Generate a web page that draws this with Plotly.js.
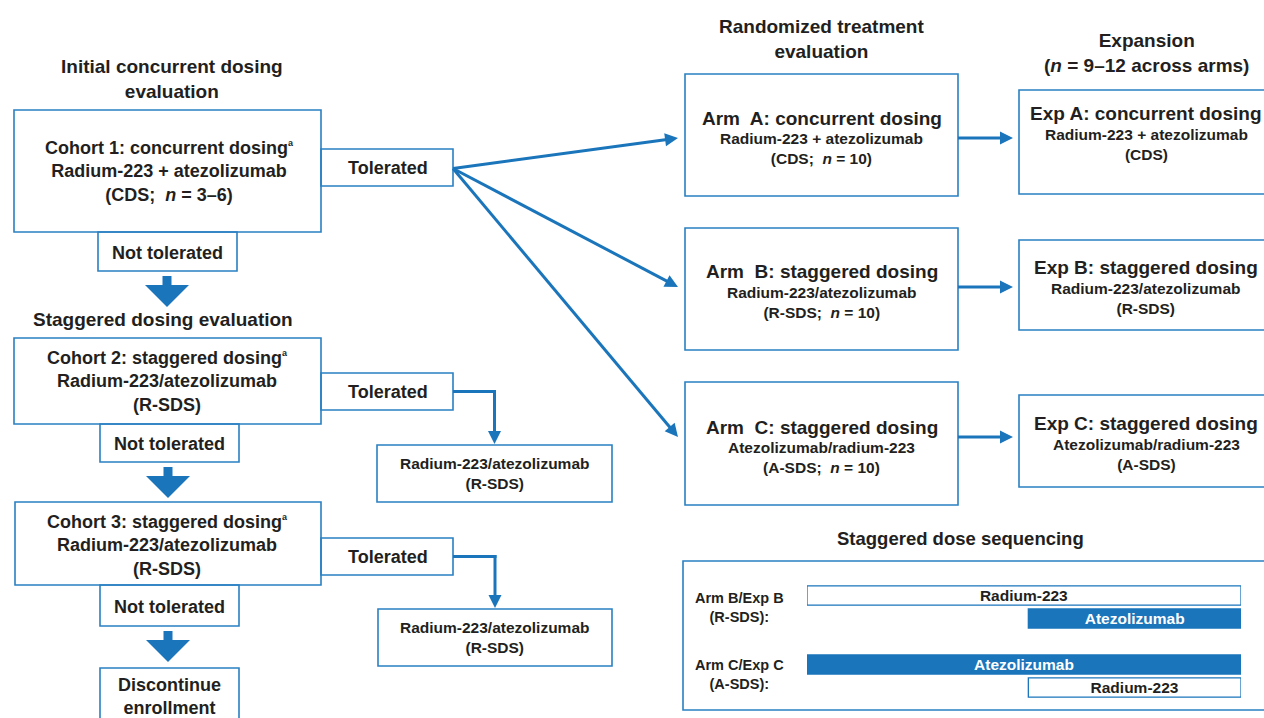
<!DOCTYPE html>
<html>
<head>
<meta charset="utf-8">
<script src="https://cdn.plot.ly/plotly-3.0.1.min.js"></script>
<style>html,body{margin:0;padding:0;background:#fff;}#chart{width:1264px;height:718px;}</style>
</head>
<body>
<div id="chart"></div>
<script>
// ---------- content (texts / values) ----------
const SUP_A = '<sup><span style="font-size:9px">a</span></sup>';
const sectionHeaders = [
  'Initial concurrent dosing<br>evaluation',
  'Staggered dosing evaluation',
  'Randomized treatment<br>evaluation',
  'Expansion<br>(<i>n</i> = 9–12 across arms)',
  'Staggered dose sequencing'
];
const cohortTexts = [
  'Cohort 1: concurrent dosing' + SUP_A + '<br>Radium-223 + atezolizumab<br>(CDS;  <i>n</i> = 3–6)',
  'Cohort 2: staggered dosing' + SUP_A + '<br>Radium-223/atezolizumab<br>(R-SDS)',
  'Cohort 3: staggered dosing' + SUP_A + '<br>Radium-223/atezolizumab<br>(R-SDS)'
];
const outcomeTolerated = ['Tolerated', 'Tolerated', 'Tolerated'];
const outcomeNotTolerated = ['Not tolerated', 'Not tolerated', 'Not tolerated'];
const toleratedResult = ['Radium-223/atezolizumab<br>(R-SDS)', 'Radium-223/atezolizumab<br>(R-SDS)'];
const finalStop = 'Discontinue<br>enrollment';
const armTitles = ['Arm  A: concurrent dosing', 'Arm  B: staggered dosing', 'Arm  C: staggered dosing'];
const armSubs = [
  'Radium-223 + atezolizumab<br>(CDS;  <i>n</i> = 10)',
  'Radium-223/atezolizumab<br>(R-SDS;  <i>n</i> = 10)',
  'Atezolizumab/radium-223<br>(A-SDS;  <i>n</i> = 10)'
];
const expTitles = ['Exp A: concurrent dosing', 'Exp B: staggered dosing', 'Exp C: staggered dosing'];
const expSubs = [
  'Radium-223 + atezolizumab<br>(CDS)',
  'Radium-223/atezolizumab<br>(R-SDS)',
  'Atezolizumab/radium-223<br>(A-SDS)'
];
// staggered dose sequencing timeline (relative time units, 0–100)
const seqGroupLabels = ['Arm B/Exp B<br>(R-SDS):', 'Arm C/Exp C<br>(A-SDS):'];
const seqDrug  = ['Radium-223', 'Atezolizumab', 'Atezolizumab', 'Radium-223'];
const seqRow   = [0, 1, 3, 4];
const seqStart = [0, 51, 0, 51];
const seqEnd   = [100, 100, 100, 100];

// ---------- styling / layout geometry (pixel canvas) ----------
const BLUE = '#1a75bb';
const BORDER = '#2a80c2';
const INK = '#231f20';
const FONT = 'Liberation Sans, Arial, sans-serif';

const geo = {
  headers: [[172, 79, 19], [163, 319, 19], [821, 38.5, 19], [1146, 52.5, 19], [960, 538, 18.5]],
  cohortBox: [[14, 110, 321, 232], [14, 338, 321, 424], [15, 502, 321, 585]],
  cohortText: [[169, 171], [167, 381], [167, 545]],
  tolBox: [[321, 149, 453, 186], [321, 373, 453, 410], [321, 538, 453, 575]],
  ntBox: [[98, 232, 237, 271], [100, 424, 239, 462], [100, 585, 239, 626]],
  blockArrow: [[167, 276], [168, 467], [168, 631]],
  stopBox: [100, 668, 239, 730],
  resBox: [[377, 445, 612, 502], [378, 609, 612, 666]],
  armBox: [[685, 74, 958, 196], [685, 228, 958, 350], [685, 382, 958, 505]],
  armTitleY: [118, 271, 427], armSubY: [148.5, 302, 457.5],
  expBox: [[1019, 90, 1275, 194], [1019, 240, 1275, 330], [1019, 395, 1275, 487]],
  expTitleY: [113, 267, 423], expSubY: [144, 298.5, 454.5],
  armArrowY: [138, 287, 437],
  seqBox: [683, 561, 1275, 710],
  seqLabel: [[739, 607], [739, 674.5]]
};

const shapes = [];
const annotations = [];
function box(b, w) {
  shapes.push({type: 'rect', xref: 'x', yref: 'y', x0: b[0], y0: b[1], x1: b[2], y1: b[3],
    line: {color: BORDER, width: w || 1.6}, fillcolor: 'rgba(0,0,0,0)', layer: 'above'});
}
function label(x, y, text, size, opts) {
  annotations.push(Object.assign({xref: 'x', yref: 'y', x: x, y: y, text: text, showarrow: false,
    font: {family: FONT, size: size, color: INK, weight: 'bold'}, xanchor: 'center', yanchor: 'middle',
    align: 'center'}, opts || {}));
}
// connector line with a filled triangular head at (x1, y1)
function arrow(x0, y0, x1, y1) {
  const L = 13, H = 6.5;
  const dx = x1 - x0, dy = y1 - y0, d = Math.hypot(dx, dy);
  const ux = dx / d, uy = dy / d, px = -uy, py = ux;
  const bx = x1 - ux * L, by = y1 - uy * L;
  shapes.push({type: 'line', xref: 'x', yref: 'y', x0: x0, y0: y0, x1: bx + ux * 2, y1: by + uy * 2,
    line: {color: BLUE, width: 3}});
  shapes.push({type: 'path', xref: 'x', yref: 'y',
    path: 'M' + x1 + ',' + y1 + ' L' + (bx + px * H) + ',' + (by + py * H) + ' L' + (bx - px * H) + ',' + (by - py * H) + ' Z',
    fillcolor: BLUE, line: {width: 0}});
}
function blockArrow(cx, top) {
  const p = 'M' + (cx - 4.5) + ',' + top + ' H' + (cx + 4.5) + ' V' + (top + 9) + ' H' + (cx + 22) +
    ' L' + cx + ',' + (top + 31) + ' L' + (cx - 22) + ',' + (top + 9) + ' H' + (cx - 4.5) + ' Z';
  shapes.push({type: 'path', xref: 'x', yref: 'y', path: p, fillcolor: BLUE, line: {width: 0}});
}

// headers
sectionHeaders.forEach((t, i) => label(geo.headers[i][0], geo.headers[i][1], '<b>' + t + '</b>', geo.headers[i][2]));

// left column
cohortTexts.forEach((t, i) => {
  box(geo.cohortBox[i]);
  label(geo.cohortText[i][0], geo.cohortText[i][1], '<b>' + t + '</b>', 18);
  const tb = geo.tolBox[i];
  box(tb);
  label((tb[0] + tb[2]) / 2 + 1, (tb[1] + tb[3]) / 2, '<b>' + outcomeTolerated[i] + '</b>', 18);
  const nb = geo.ntBox[i];
  box(nb);
  label((nb[0] + nb[2]) / 2, (nb[1] + nb[3]) / 2 + 1, '<b>' + outcomeNotTolerated[i] + '</b>', 18);
  blockArrow(geo.blockArrow[i][0], geo.blockArrow[i][1]);
});
box(geo.stopBox);
label((geo.stopBox[0] + geo.stopBox[2]) / 2, 696, '<b>' + finalStop + '</b>', 18);

// tolerated results (elbow connectors)
toleratedResult.forEach((t, i) => {
  const rb = geo.resBox[i];
  const tb = geo.tolBox[i + 1];
  box(rb);
  label((rb[0] + rb[2]) / 2, (rb[1] + rb[3]) / 2, '<b>' + t + '</b>', 15.5);
  const cx = (rb[0] + rb[2]) / 2;
  const ty = (tb[1] + tb[3]) / 2;
  shapes.push({type: 'line', xref: 'x', yref: 'y', x0: tb[2], y0: ty, x1: cx + 1.5, y1: ty,
    line: {color: BLUE, width: 3}});
  arrow(cx, ty - 1.5, cx, rb[1] - 1);
});

// arms & expansions
armTitles.forEach((t, i) => {
  const ab = geo.armBox[i], eb = geo.expBox[i];
  box(ab); box(eb);
  label((ab[0] + ab[2]) / 2, geo.armTitleY[i], '<b>' + t + '</b>', 19);
  label((ab[0] + ab[2]) / 2, geo.armSubY[i], '<b>' + armSubs[i] + '</b>', 15.5);
  label(1146, geo.expTitleY[i], '<b>' + expTitles[i] + '</b>', 19);
  label(1146, geo.expSubY[i], '<b>' + expSubs[i] + '</b>', 15.5);
  const tb = geo.tolBox[0];
  arrow(tb[2], (tb[1] + tb[3]) / 2 + 1, ab[0] - 7, geo.armArrowY[i]);
  arrow(ab[2], geo.armArrowY[i], eb[0] - 6, geo.armArrowY[i]);
});

// sequencing inset
box(geo.seqBox);
seqGroupLabels.forEach((t, i) => label(geo.seqLabel[i][0], geo.seqLabel[i][1], '<b>' + t + '</b>', 14.5));

const seqTrace = {
  type: 'bar', orientation: 'h', xaxis: 'x2', yaxis: 'y2',
  y: seqRow, base: seqStart, x: seqEnd.map((e, i) => e - seqStart[i]),
  width: 0.83,
  marker: {color: seqDrug.map(d => d === 'Atezolizumab' ? BLUE : '#ffffff'), line: {color: BLUE, width: 1.3}},
  text: seqDrug.map(d => '<b>' + d + '</b>'),
  textposition: 'inside', insidetextanchor: 'middle', constraintext: 'none', textangle: 0,
  textfont: {family: FONT, size: 15.5, color: seqDrug.map(d => d === 'Atezolizumab' ? '#ffffff' : INK)},
  hoverinfo: 'skip', showlegend: false
};

const layout = {
  width: 1264, height: 718,
  margin: {l: 0, r: 0, t: 0, b: 0},
  paper_bgcolor: '#fff', plot_bgcolor: 'rgba(0,0,0,0)',
  showlegend: false,
  xaxis: {range: [0, 1264], visible: false, fixedrange: true},
  yaxis: {range: [718, 0], visible: false, fixedrange: true},
  xaxis2: {domain: [807 / 1264, 1241 / 1264], range: [0, 100], visible: false, anchor: 'y2'},
  yaxis2: {domain: [1 - 699 / 718, 1 - 584 / 718], range: [4.5, -0.5], visible: false, anchor: 'x2'},
  shapes: shapes,
  annotations: annotations
};

Plotly.newPlot('chart', [seqTrace], layout, {staticPlot: true, displayModeBar: false});
</script>
</body>
</html>
